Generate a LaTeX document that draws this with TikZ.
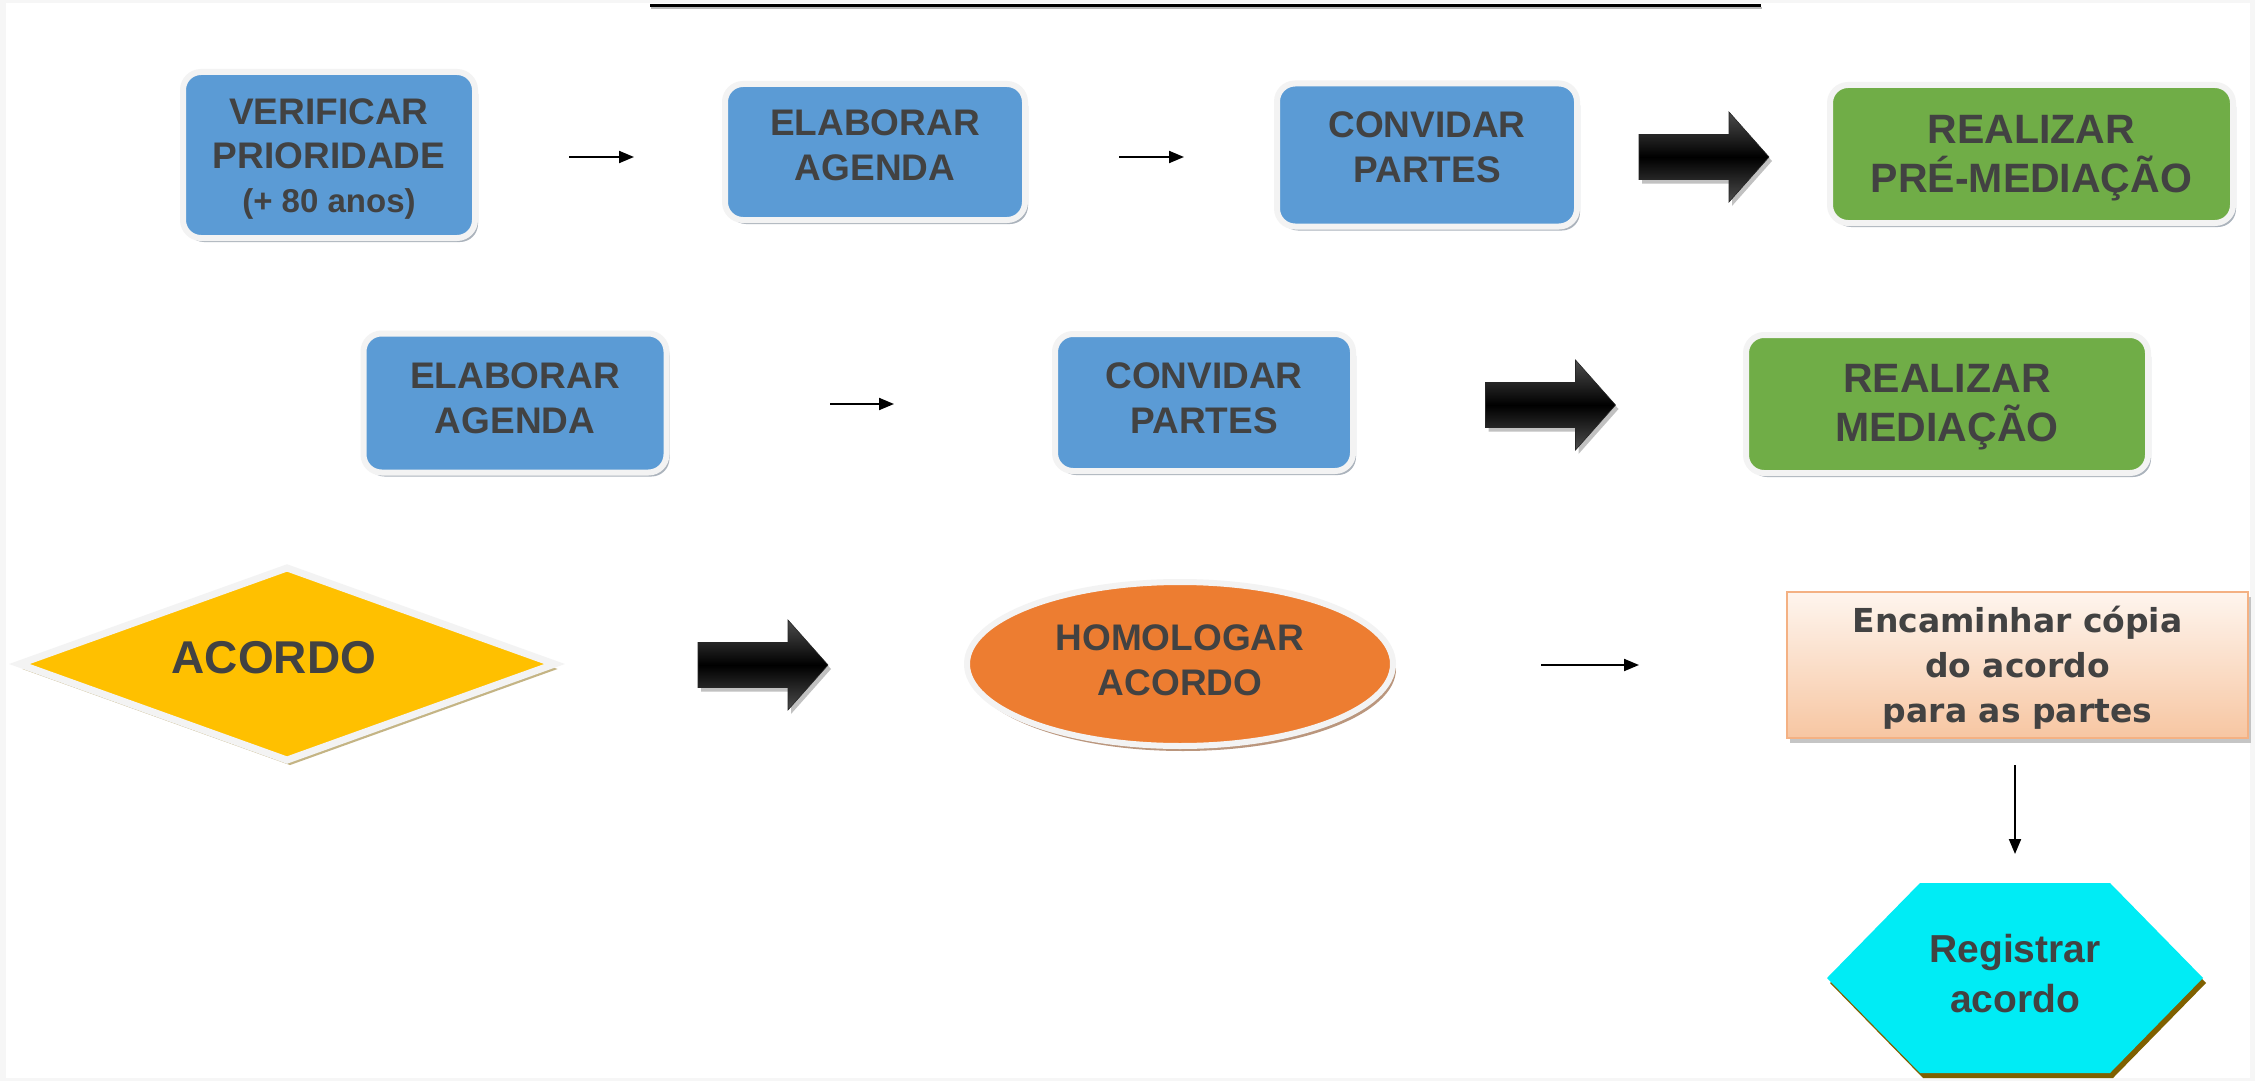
\documentclass[tikz,border=0pt]{standalone}
\usepackage{fontspec}
\setmainfont{Liberation Sans}
\newfontfamily\encfont{DejaVu Sans}
\usetikzlibrary{shapes.geometric,shadows,arrows.meta}
\definecolor{txtgray}{RGB}{66,66,66}
\definecolor{boxblue}{RGB}{91,155,213}
\definecolor{boxgreen}{RGB}{112,173,71}
\definecolor{ringwhite}{RGB}{243,243,243}
\definecolor{shadowgray}{RGB}{150,160,172}
\definecolor{dyellow}{RGB}{255,192,0}
\definecolor{dshadow}{RGB}{196,180,132}
\definecolor{eorange}{RGB}{237,125,49}
\definecolor{eshadow}{RGB}{186,150,125}
\definecolor{hcyan}{RGB}{0,236,245}
\definecolor{hshadow}{RGB}{127,96,0}
\definecolor{peachtop}{RGB}{254,245,238}
\definecolor{peachbot}{RGB}{247,198,162}
\definecolor{peachline}{RGB}{244,177,131}
\definecolor{framegray}{RGB}{246,246,246}
\newcommand\tstrut{\rule{0pt}{34pt}}
\newcommand\gstrut{\rule{0pt}{40pt}}
\newcommand\bstrut[1]{\rule[-#1pt]{0pt}{#1pt}}
% block arrow drawn around a named coordinate
\newcommand\BigArr[3]{%
  \coordinate (#1) at (#2,#3);
  \fill[gray!60, opacity=0.8] ([shift={(3,4)}]#1) ++(-65,-22.5) -- ++(90,0) -- ++(0,-22.5)
     -- ++(40,45) -- ++(-40,45) -- ++(0,-22.5) -- ++(-90,0) -- cycle;
  \shade[bigarrowshade] (#1) ++(-65,-22.5) -- ++(90,0) -- ++(0,-22.5)
     -- ++(40,45) -- ++(-40,45) -- ++(0,-22.5) -- ++(-90,0) -- cycle;
}
\begin{document}
\begin{tikzpicture}[x=1pt,y=-1pt,
  txt/.style={text=txtgray, font=\bfseries\fontsize{37}{45}\selectfont, align=center, inner sep=0pt},
  roundbox/.style={txt, rectangle, rounded corners=18pt, draw=ringwhite, line width=6pt,
     drop shadow={shadow xshift=3pt, shadow yshift=-4pt, fill=shadowgray, opacity=0.8}},
  bluebox/.style={roundbox, fill=boxblue},
  greenbox/.style={roundbox, fill=boxgreen, font=\bfseries\fontsize{41}{49}\selectfont},
  smallarrow/.style={line width=2pt, -{Triangle[length=15pt,width=12pt]}},
  bigarrowshade/.style={top color=black!70, bottom color=black!70, middle color=black,
     draw=black!85, line width=0.6pt},
  decision/.style={txt, diamond, shape aspect=2.76, draw=ringwhite, line width=7pt, fill=dyellow,
     minimum width=538pt, minimum height=195pt,
     drop shadow={shadow xshift=3pt, shadow yshift=-5pt, fill=dshadow, opacity=1}},
  oval/.style={txt, ellipse, draw=ringwhite, line width=6pt, fill=eorange,
     minimum width=426pt, minimum height=164pt,
     drop shadow={shadow xshift=3pt, shadow yshift=-5pt, fill=eshadow, opacity=1}},
  encbox/.style={txt, rectangle, draw=peachline, line width=1.5pt, top color=peachtop, bottom color=peachbot,
     minimum width=461pt, minimum height=146pt, font=\encfont\bfseries\fontsize{33}{45}\selectfont,
     drop shadow={shadow xshift=3pt, shadow yshift=-5pt, fill=gray!50, opacity=0.9}},
  hextext/.style={txt, font=\bfseries\fontsize{39}{50}\selectfont}
]
% page and frame
\fill[framegray] (0,0) rectangle (2255,1081);
\fill[white] (6,3) rectangle (2250,1078);
\useasboundingbox (0,0) rectangle (2255,1081);

% top rule
\draw[gray!55, line width=2pt] (651,8.5) -- (1762,8.5);
\draw[black, line width=3pt] (650,5.5) -- (1761,5.5);

% row 1
\node[bluebox, minimum width=292pt, minimum height=166pt, font=\bfseries\fontsize{37}{44}\selectfont] (verif) at (329,155)
  {\tstrut VERIFICAR\\PRIORIDADE\\{\fontsize{33}{44}\selectfont (+ 80 anos)}\bstrut{6}};
\node[bluebox, minimum width=300pt, minimum height=136pt] (elab1) at (875,152)
  {\tstrut ELABORAR\\AGENDA\bstrut{23}};
\node[bluebox, minimum width=300pt, minimum height=143pt] (conv1) at (1427,155)
  {\tstrut CONVIDAR\\PARTES\bstrut{25}};
\node[greenbox, minimum width=403pt, minimum height=138pt] (premed) at (2031.5,154)
  {\gstrut REALIZAR\\PRÉ-MEDIAÇÃO\bstrut{13}};

\coordinate (a1s) at (569,157);  \coordinate (a1e) at (634,157);
\coordinate (a2s) at (1119,157); \coordinate (a2e) at (1184,157);
\draw[smallarrow] (a1s) -- (a1e);
\draw[smallarrow] (a2s) -- (a2e);
\BigArr{big1}{1704}{157}

% row 2
\node[bluebox, minimum width=303pt, minimum height=139pt] (elab2) at (515,403)
  {\tstrut ELABORAR\\AGENDA\bstrut{19}};
\node[bluebox, minimum width=298pt, minimum height=137pt] (conv2) at (1204,402.5)
  {\tstrut CONVIDAR\\PARTES\bstrut{18}};
\node[greenbox, minimum width=402pt, minimum height=138pt] (med) at (1947,404)
  {\gstrut REALIZAR\\MEDIAÇÃO\bstrut{15}};

\coordinate (a3s) at (830,404); \coordinate (a3e) at (894,404);
\draw[smallarrow] (a3s) -- (a3e);
\BigArr{big2}{1550.5}{405}

% row 3
\node[decision] (acordo) at (287,664)
  {\rule{0pt}{40pt}{\fontsize{46}{50}\selectfont ACORDO}\rule[-22pt]{0pt}{22pt}\rule{26pt}{0pt}};
\BigArr{big3}{763}{665}
\node[oval] (homol) at (1180,664)
  {\tstrut HOMOLOGAR\\ACORDO\bstrut{17}};
\coordinate (a4s) at (1541,665); \coordinate (a4e) at (1639,665);
\draw[smallarrow] (a4s) -- (a4e);
\node[encbox] (enc) at (2017.5,665)
  {\tstrut Encaminhar cópia\\do acordo\\para as partes\bstrut{9}};

\coordinate (a5s) at (2015,765); \coordinate (a5e) at (2015,854);
\draw[smallarrow] (a5s) -- (a5e);

% hexagon
\fill[hshadow] (1923,888) -- (2113,888) -- (2206,983) -- (2113,1078) -- (1923,1078) -- (1830,983) -- cycle;
\fill[hcyan] (1920,883) -- (2110,883) -- (2203,978) -- (2110,1073) -- (1920,1073) -- (1827,978) -- cycle;
\node[hextext] (reg) at (2015,978) {\tstrut Registrar\\acordo\bstrut{16}};
\end{tikzpicture}
\end{document}
